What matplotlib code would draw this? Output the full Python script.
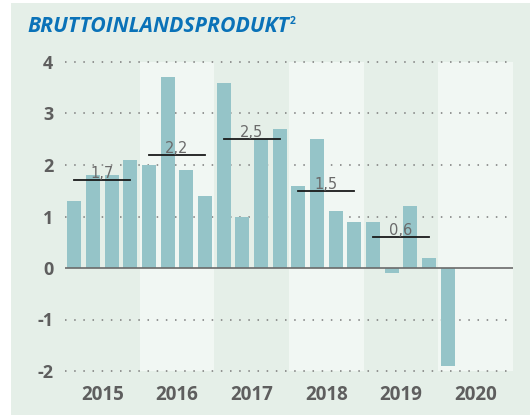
import matplotlib
matplotlib.use("Agg")
import matplotlib.pyplot as plt
from matplotlib.patches import Rectangle

# Quartalswerte (Veränderung gg. Vorjahr, %)
years = ["2015", "2016", "2017", "2018", "2019", "2020"]
q_values = [1.3, 1.8, 1.8, 2.1,
            2.0, 3.7, 1.9, 1.4,
            3.6, 1.0, 2.5, 2.7,
            1.6, 2.5, 1.1, 0.9,
            0.9, -0.1, 1.2, 0.2,
            -1.9]
avg_years = [0, 1, 2, 3, 4]
avg_values = [1.7, 2.2, 2.5, 1.5, 0.6]
avg_labels = ["1,7", "2,2", "2,5", "1,5", "0,6"]
y_ticks = [4, 3, 2, 1, 0, -1, -2]

PANEL = "#E5EFE8"
LIGHT = "#F1F7F3"
BAR = "#95C4C8"
TXT = "#5E5E5E"
BLUE = "#0A72B8"

fig = plt.figure(figsize=(5.3, 4.15), dpi=100)
fig.patch.set_facecolor("white")
fig.patches.append(Rectangle((11/530, 0), 1, (415-3)/415, transform=fig.transFigure,
                             fc=PANEL, ec="none", zorder=-10))

ax = fig.add_axes([65/530, (415-371)/415, 448/530, 309/415])
ax.set_facecolor(PANEL)
ax.set_xlim(-0.5, 23.5)
ax.set_ylim(-2, 4)

# Jahresbänder
for i in range(len(years)):
    if i % 2 == 1:
        ax.axvspan(i*4 - 0.5, i*4 + 3.5, color=LIGHT, zorder=0, lw=0)

# Gitter
for y in y_ticks:
    if y != 0:
        ax.axhline(y, color="#7A7A7A", lw=1.1, ls=(0, (1, 5)), zorder=1, clip_on=False)

x = list(range(len(q_values)))
ax.bar(x, q_values, width=0.75, color=BAR, zorder=2)
ax.axhline(0, color="#6A6A6A", lw=1.2, zorder=3)

# Jahresdurchschnitt
for yi, v, lab in zip(avg_years, avg_values, avg_labels):
    ax.plot([yi*4, yi*4 + 3], [v, v], color="#1A1A1A", lw=1.3, zorder=4)
    ax.text(yi*4 + 1.5, v - 0.02, lab, ha="center", va="bottom", fontsize=10.5,
            color="#6A6A6A", family="DejaVu Sans", zorder=5)

ax.set_yticks(y_ticks)
ax.set_yticklabels([str(t) if t >= 0 else "-" + str(-t) for t in y_ticks],
                   fontsize=13, fontweight="bold", color=TXT, family="Open Sans")
ax.set_xticks([i*4 + 1.5 for i in range(len(years))])
ax.set_xticklabels(years, fontsize=13.5, fontweight="bold", color=TXT, family="Open Sans")
ax.tick_params(length=0, axis="y", pad=8.5)
ax.tick_params(length=0, axis="x", pad=10)
for s in ax.spines.values():
    s.set_visible(False)

title = fig.text(27/530, 1 - 27/415, "BRUTTOINLANDSPRODUKT", fontsize=15.3, fontweight="bold",
                 style="italic", color=BLUE, family="Open Sans", va="center", ha="left")
fig.canvas.draw()
bb = title.get_window_extent()
fig.text((bb.x1 + 1) / 530, 1 - 21/415, "2", fontsize=7.5, fontweight="bold",
         color=BLUE, family="Open Sans", va="center", ha="left")

fig.savefig("out.png", dpi=100)
